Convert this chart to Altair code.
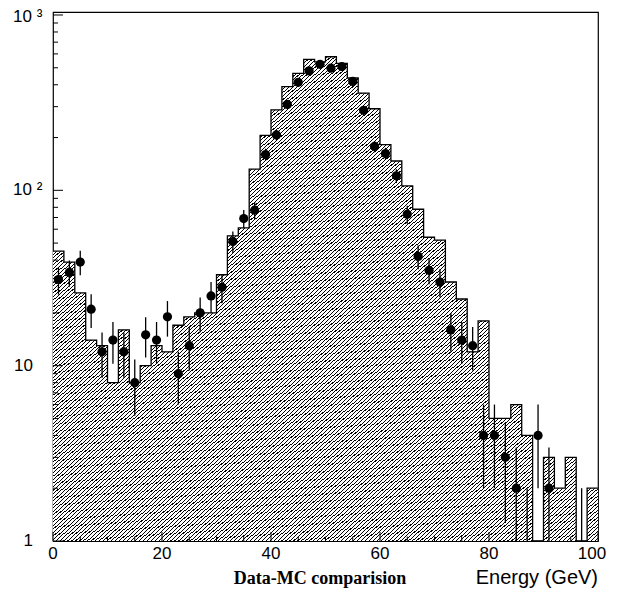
import pandas as pd
import altair as alt

# ---------------- data ----------------
bin_low_edges = list(range(0, 100, 2))          # 2 GeV bins, 0..100
mc_counts = [45, 39, 26, 14, 13, 8, 16, 8, 10, 13,
             12, 17, 19, 20, 20, 33, 55, 61, 132, 206,
             288, 390, 464, 558, 540, 578, 530, 437, 358, 292,
             182, 147, 106, 78, 54, 52, 30, 24, 12, 18,
             5, 5, 6, 4, 0, 3, 2, 3, 0, 2]
data_centers = list(range(1, 100, 2))
data_counts = [31, 34, 39, 21, 12, 14, 12, 8, 15, 14,
               19, 9, 13, 20, 25, 28, 51, 69, 77, 160,
               207, 309, 413, 480, 523, 497, 508, 418, 286, 178,
               162, 121, 73, 42, 35, 30, 16, 14, 13, 4,
               4, 3, 2, 1, 4, 2, 0, 0, 1, 0]

x_major_ticks = [0, 20, 40, 60, 80, 100]
x_minor_ticks = [v for v in range(5, 100, 5) if v % 20]
y_major_ticks = [1, 10, 100, 1000]
y_minor_ticks = [m * 10 ** d for d in range(3) for m in range(2, 10)]
x_label_texts = ["0", "20", "40", "60", "80", "100"]
y_label_values = [1, 10, 100, 1000]
y_label_texts = ["1", "10", "10 \u00b2", "10 \u00b3"]
x_title_text = ["Energy (GeV)"]
caption_text = ["Data-MC comparision"]

# ---------------- layout ----------------
W, H = 545, 529
Y_TOP = 1040
PAD = {"left": 45, "top": 4, "right": 12, "bottom": 47}

hist = pd.DataFrame({"E": bin_low_edges + [100], "mc": mc_counts + [mc_counts[-1]]})
pts = pd.DataFrame({"E": data_centers, "n": data_counts})

x_scale = alt.Scale(domain=[0, 100], nice=False, zero=False)
y_scale = alt.Scale(type="log", domain=[1, Y_TOP], nice=False)

# diagonal hatch as a striped linear gradient
N_STRIPES = 275
FRAC = 0.30
stops = []
for i in range(N_STRIPES):
    a = round(i / N_STRIPES, 6)
    b = round((i + FRAC) / N_STRIPES, 6)
    c = round((i + 1) / N_STRIPES, 6)
    stops += [{"offset": a, "color": "#000000"}, {"offset": b, "color": "#000000"},
              {"offset": b, "color": "#ffffff"}, {"offset": c, "color": "#ffffff"}]
hatch = {"gradient": "linear", "x1": 0, "y1": 0, "x2": 1, "y2": 1, "stops": stops}

base_h = alt.Chart(hist).transform_calculate(v="max(datum.mc, 1)")
area = base_h.mark_area(interpolate="step-after", fill=hatch, clip=True).encode(
    x=alt.X("E:Q", scale=x_scale, axis=None),
    y=alt.Y("v:Q", scale=y_scale, axis=None),
    y2=alt.datum(1),
)
outline = base_h.mark_line(interpolate="step-after", color="black", strokeWidth=1.3, clip=True).encode(
    x=alt.X("E:Q", scale=x_scale, axis=None),
    y=alt.Y("v:Q", scale=y_scale, axis=None),
)

base_p = alt.Chart(pts).transform_filter("datum.n > 0").transform_calculate(
    hi="datum.n + sqrt(datum.n)", lo="max(datum.n - sqrt(datum.n), 1)")
errs = base_p.mark_rule(color="black", strokeWidth=1.3, clip=True).encode(
    x=alt.X("E:Q", scale=x_scale, axis=None),
    y=alt.Y("lo:Q", scale=y_scale, axis=None),
    y2="hi:Q",
)
dots = base_p.transform_filter("datum.n > 1").mark_circle(size=85, color="black", opacity=1, clip=True).encode(
    x=alt.X("E:Q", scale=x_scale, axis=None),
    y=alt.Y("n:Q", scale=y_scale, axis=None),
)

def ytick(vals, length):
    return alt.Chart(pd.DataFrame({"t": vals})).mark_rule(color="black", strokeWidth=1).encode(
        y=alt.Y("t:Q", scale=y_scale, axis=None), x=alt.value(0), x2=alt.value(length))

def xtick(vals, length):
    return alt.Chart(pd.DataFrame({"E": vals})).mark_rule(color="black", strokeWidth=1).encode(
        x=alt.X("E:Q", scale=x_scale, axis=None), y=alt.value(H), y2=alt.value(H - length))

xlab = pd.DataFrame({"E": x_major_ticks, "s": x_label_texts})
xlab_a = alt.Chart(xlab).transform_filter("datum.E < 100").mark_text(
    align="center", baseline="top", font="Liberation Sans", fontSize=17, color="black").encode(
    x=alt.X("E:Q", scale=x_scale, axis=None), y=alt.value(H + 5), text="s:N")
xlab_b = alt.Chart(xlab).transform_filter("datum.E >= 100").mark_text(
    align="center", baseline="top", font="Liberation Sans", fontSize=17, color="black", dx=-6).encode(
    x=alt.X("E:Q", scale=x_scale, axis=None), y=alt.value(H + 5), text="s:N")

ylab = pd.DataFrame({"t": y_label_values, "s": y_label_texts})
ylab_a = alt.Chart(ylab).transform_filter("datum.t < 100").mark_text(
    align="right", baseline="middle", font="Liberation Sans", fontSize=17, color="black").encode(
    y=alt.Y("t:Q", scale=y_scale, axis=None), x=alt.value(-20), text="s:N")
ylab_b = alt.Chart(ylab).transform_filter("datum.t == 100").mark_text(
    align="left", baseline="middle", font="Liberation Sans", fontSize=17, color="black").encode(
    y=alt.Y("t:Q", scale=y_scale, axis=None), x=alt.value(-40), text="s:N")
ylab_c = alt.Chart(ylab).transform_filter("datum.t >= 1000").mark_text(
    align="left", baseline="middle", font="Liberation Sans", fontSize=17, color="black", dy=2).encode(
    y=alt.Y("t:Q", scale=y_scale, axis=None), x=alt.value(-40), text="s:N")

xtitle = alt.Chart(pd.DataFrame({"s": x_title_text})).mark_text(
    align="right", baseline="alphabetic", font="Liberation Sans", fontSize=20, color="black").encode(
    x=alt.value(W), y=alt.value(H + 43), text="s:N")
caption = alt.Chart(pd.DataFrame({"s": caption_text})).mark_text(
    align="center", baseline="alphabetic", font="Liberation Serif", fontSize=18, fontWeight="bold",
    color="black").encode(
    x=alt.value(267), y=alt.value(H + 43), text="s:N")

chart = alt.layer(
    area, outline, errs, dots,
    ytick(y_major_ticks, 10), ytick(y_minor_ticks, 5),
    xtick(x_major_ticks, 9), xtick(x_minor_ticks, 4.5),
    xlab_a, xlab_b, ylab_a, ylab_b, ylab_c, xtitle, caption,
).properties(
    width=W, height=H, padding=PAD, autosize=alt.AutoSizeParams(type="none"),
    background="white",
).configure_view(stroke="black", strokeWidth=1.2).configure_axis(grid=False)

chart.save("out.html", embed_options={"renderer": "svg", "actions": False})
